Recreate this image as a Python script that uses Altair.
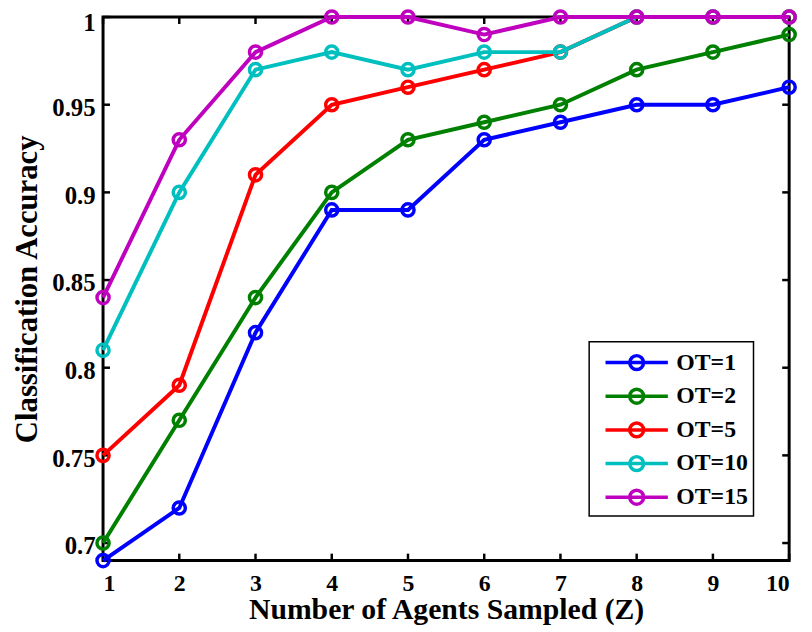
import altair as alt
import pandas as pd

x_vals = [1, 2, 3, 4, 5, 6, 7, 8, 9, 10]
series_names = ["OT=1", "OT=2", "OT=5", "OT=10", "OT=15"]
ot1 = [0.69, 0.72, 0.82, 0.89, 0.89, 0.93, 0.94, 0.95, 0.95, 0.96]
ot2 = [0.70, 0.77, 0.84, 0.90, 0.93, 0.94, 0.95, 0.97, 0.98, 0.99]
ot5 = [0.75, 0.79, 0.91, 0.95, 0.96, 0.97, 0.98, 1.00, 1.00, 1.00]
ot10 = [0.81, 0.90, 0.97, 0.98, 0.97, 0.98, 0.98, 1.00, 1.00, 1.00]
ot15 = [0.84, 0.93, 0.98, 1.00, 1.00, 0.99, 1.00, 1.00, 1.00, 1.00]
colors = ["#0000FF", "#008000", "#FF0000", "#00BFBF", "#BF00BF"]
y_ticks = [0.70, 0.75, 0.80, 0.85, 0.90, 0.95, 1.00]
x_ticks = [1, 2, 3, 4, 5, 6, 7, 8, 9, 10]

all_series = [ot1, ot2, ot5, ot10, ot15]
rows = []
for name, vals in zip(series_names, all_series):
    for xv, yv in zip(x_vals, vals):
        rows.append({"Z": xv, "acc": yv, "series": name})
df = pd.DataFrame(rows)

W, H = 693, 549
FONT = "Liberation Serif"

xscale = alt.Scale(domain=[1, 10], nice=False, zero=False)
yscale = alt.Scale(domain=[0.69, 1.0], nice=False, zero=False)

legend_path = "M-2.25,0L2.25,0M0.5,0A0.5,0.5,0,1,1,-0.5,0A0.5,0.5,0,1,1,0.5,0"

color = alt.Color(
    "series:N",
    scale=alt.Scale(domain=series_names, range=colors),
    legend=alt.Legend(
        title=None,
        orient="none",
        legendX=491,
        legendY=328,
        symbolType=legend_path,
        symbolSize=784,
        symbolStrokeWidth=3.5,
        symbolFillColor="transparent",
        labelFont=FONT,
        labelFontWeight="bold",
        labelFontSize=24,
        labelColor="black",
        strokeColor="black",
        fillColor="white",
        padding=5,
        rowPadding=4,
        symbolOffset=27,
        labelOffset=24,
    ),
)

x_enc = alt.X(
    "Z:Q",
    scale=xscale,
    axis=alt.Axis(
        values=x_ticks,
        title="Number of Agents Sampled (Z)",
        titleFont=FONT,
        titleFontSize=30,
        titleFontWeight="bold",
        titleColor="black",
        titlePadding=0,
        labelFont=FONT,
        labelFontSize=24,
        labelFontWeight="bold",
        labelColor="black",
        labelPadding=11,
        ticks=False,
        domain=False,
        grid=False,
        format="d",
    ),
)
y_enc = alt.Y(
    "acc:Q",
    scale=yscale,
    axis=alt.Axis(
        values=y_ticks,
        title="Classification Accuracy",
        titleFont=FONT,
        titleFontSize=31,
        titleFontWeight="bold",
        titleColor="black",
        titlePadding=8,
        labelFont=FONT,
        labelFontSize=25,
        labelFontWeight="bold",
        labelColor="black",
        labelPadding=8,
        labelOffset={"condition": {"test": "datum.value >= 0.999", "value": 6}, "value": 3},
        ticks=False,
        domain=False,
        grid=False,
        format="~g",
    ),
)

base = alt.Chart(df)
layers = []
for name in series_names:
    sub = base.transform_filter(alt.datum.series == name)
    layers.append(
        sub.mark_line(strokeWidth=4, clip=False).encode(x=x_enc, y=y_enc, color=color)
    )
    layers.append(
        sub.mark_point(shape="circle", filled=False, size=150, strokeWidth=3.5, opacity=1, clip=False).encode(
            x="Z:Q", y="acc:Q", color=color
        )
    )

ytick_df = pd.DataFrame({"v": y_ticks})
xtick_df = pd.DataFrame({"v": x_ticks})
TL = 7
ytl = alt.Chart(ytick_df).mark_rule(color="black", strokeWidth=2.5).encode(
    y=alt.Y("v:Q", scale=yscale), x=alt.value(0), x2=alt.value(TL)
)
ytr = alt.Chart(ytick_df).mark_rule(color="black", strokeWidth=2.5).encode(
    y=alt.Y("v:Q", scale=yscale), x=alt.value(W - TL), x2=alt.value(W)
)
xtb = alt.Chart(xtick_df).mark_rule(color="black", strokeWidth=2.5).encode(
    x=alt.X("v:Q", scale=xscale), y=alt.value(H - TL), y2=alt.value(H)
)
xtt = alt.Chart(xtick_df).mark_rule(color="black", strokeWidth=2.5).encode(
    x=alt.X("v:Q", scale=xscale), y=alt.value(0), y2=alt.value(TL)
)

chart = alt.layer(ytl, ytr, xtb, xtt, *layers).properties(
    width=W,
    height=H,
    autosize="none",
    padding={"left": 96, "top": 6, "right": 15, "bottom": 69},
    background="white",
).configure_view(stroke="black", strokeWidth=3).configure_legend(strokeWidth=1.5)

chart.save("out.html", embed_options={"renderer": "svg", "actions": False})
